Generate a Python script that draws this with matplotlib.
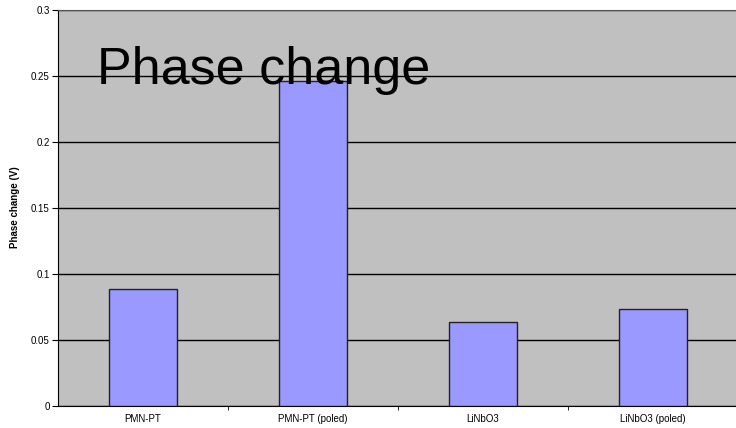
#!/usr/bin/env python3
import matplotlib as mpl
mpl.rcParams.update({
    "font.family": "Liberation Sans",
    "font.size": 7,
})
import matplotlib.pyplot as plt
import numpy as np

MATERIALS = ['PMN-PT', 'PMN-PT (poled)', 'LiNbO3', 'LiNbO3 (poled)']
PHASE_CHANGE = [0.0885, 0.246, 0.0633, 0.0731]
Y_TICKS = [0, 0.05, 0.1, 0.15, 0.2, 0.25, 0.3]

fig = plt.figure(figsize=(7.36, 4.28), dpi=100)
W, H = 736, 428
ax = fig.add_axes([58 / W, 22.5 / H, 680 / W, 396 / H])
ax.set_facecolor('#c0c0c0')

x = np.arange(len(MATERIALS))
ax.bar(x, PHASE_CHANGE, width=0.4, color='#9999ff',
       edgecolor='#222222', linewidth=1, zorder=3)

ax.set_xlim(-0.5, len(MATERIALS) - 0.5)
ax.set_ylim(0, 0.3)
ax.set_yticks(Y_TICKS)
ax.set_yticklabels(['0', '0.05', '0.1', '0.15', '0.2', '0.25', '0.3'])
ax.yaxis.grid(True, color='black', linewidth=1, zorder=1)
ax.set_axisbelow(True)

ax.set_xticks(x)
ax.set_xticklabels(MATERIALS)
ax.set_xticks(np.arange(0.5, len(MATERIALS) - 0.5), minor=True)
ax.tick_params(axis='x', which='major', length=0, pad=6)
ax.tick_params(axis='x', which='minor', length=3, direction='out')
ax.tick_params(axis='y', length=4, direction='out', pad=2)

ax.spines['right'].set_visible(False)
ax.spines['top'].set_color('#555555')
ax.spines['left'].set_color('black')
ax.spines['bottom'].set_color('black')

ax.set_ylabel('Phase change (V)', fontweight='bold')
ax.yaxis.set_label_coords(-38 / 680, 0.5)

fig.text(97 / W, 1 - 84 / H, 'Phase change', fontsize=37.5, ha='left', va='baseline')

fig.savefig('out.png', dpi=100)
